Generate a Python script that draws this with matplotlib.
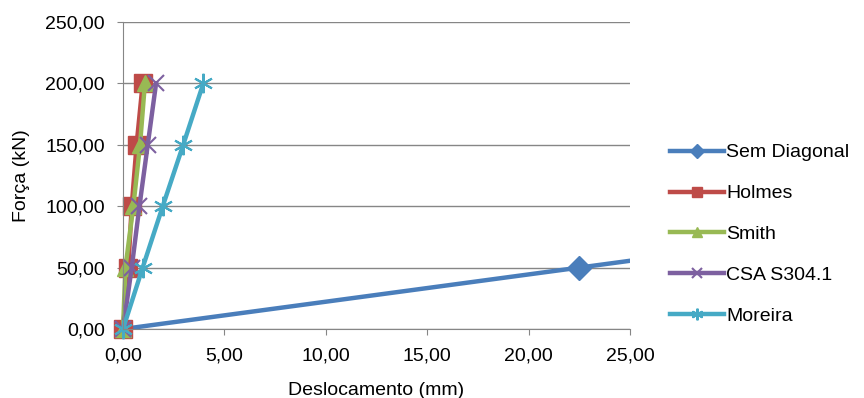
import matplotlib
matplotlib.use("Agg")
import matplotlib.pyplot as plt
from matplotlib.ticker import FuncFormatter

plt.rcParams['font.family'] = ['Liberation Sans', 'DejaVu Sans']

forca = [0, 50, 100, 150, 200]
sem_x = [0, 22.5, 45.0]
sem_y = [0, 50, 100]
holmes_x = [0, 0.26, 0.43, 0.67, 0.97]
smith_x = [0, 0.12, 0.51, 0.84, 1.08]
csa_x = [0, 0.43, 0.81, 1.22, 1.63]
moreira_x = [0, 0.97, 1.96, 2.97, 3.96]

fig = plt.figure(figsize=(8.64, 3.98), dpi=100)
ax = fig.add_axes([123/864, 1-329/398, (630-123)/864, (329-22)/398])

lw = 3.2
ax.plot(sem_x, sem_y, color='#4A7EBB', lw=lw, marker='D', ms=12, label='Sem Diagonal', clip_on=True)
ax.plot(holmes_x, forca, color='#BE4B48', lw=lw, marker='s', ms=12.5, label='Holmes', clip_on=False)
ax.plot(smith_x, forca, color='#98B954', lw=lw, marker='^', ms=12, label='Smith', clip_on=False)
ax.plot(csa_x, forca, color='#7D60A0', lw=lw, marker='x', ms=11, mew=1.5, label='CSA S304.1', clip_on=False)
ax.plot(moreira_x, forca, color='#46AAC5', lw=lw, marker=(6, 2, 0), ms=14, mew=1.5, label='Moreira', clip_on=False)

ax.set_xlim(0, 25)
ax.set_ylim(0, 250)
ax.set_xticks([0, 5, 10, 15, 20, 25])
ax.set_yticks([0, 50, 100, 150, 200, 250])
fmt = FuncFormatter(lambda v, p: f"{v:.2f}".replace('.', ','))
ax.xaxis.set_major_formatter(fmt)
ax.yaxis.set_major_formatter(fmt)
ax.tick_params(labelsize=14, colors='#000000', length=4, color='#868686', pad=9)
ax.yaxis.grid(True, color='#868686', lw=1)
ax.set_axisbelow(True)
for s in ['top', 'right']:
    ax.spines[s].set_visible(False)
for s in ['left', 'bottom']:
    ax.spines[s].set_color('#868686')
ax.set_xlabel('Deslocamento (mm)', fontsize=14, labelpad=13)
ax.set_ylabel('Força (kN)', fontsize=14, labelpad=11)

leg = fig.legend(loc='upper left', bbox_to_anchor=(662/864, 1-136/398), frameon=False,
                 fontsize=14, handlelength=2.8, labelspacing=1.2, handletextpad=0.1,
                 markerscale=0.6, borderaxespad=0)

fig.savefig('out.png', dpi=100)
